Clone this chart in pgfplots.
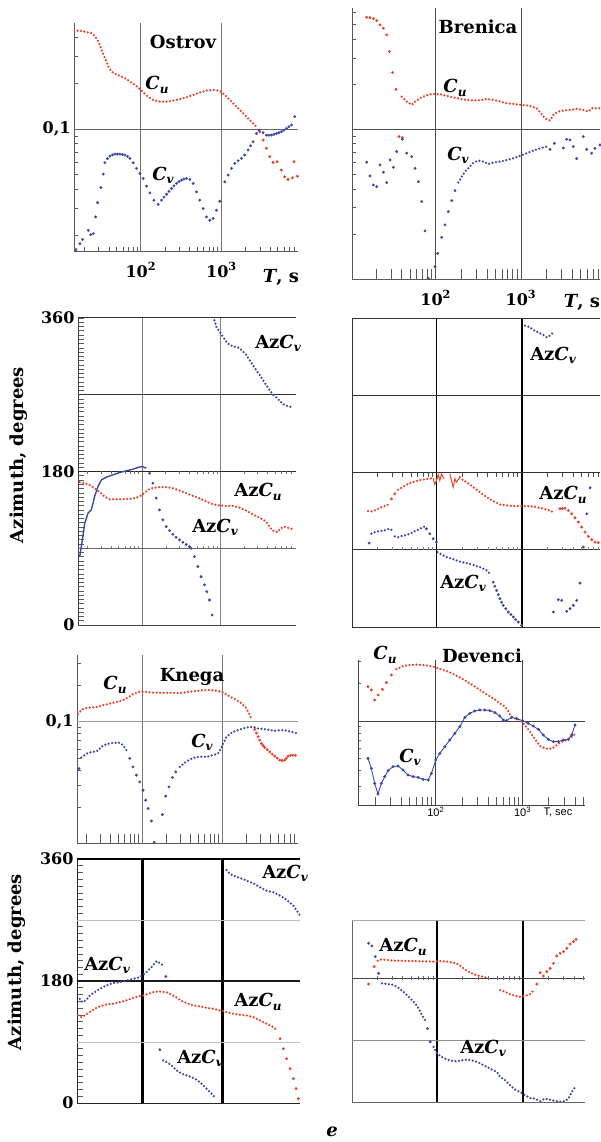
\documentclass[border=0pt]{standalone}
\usepackage{fontspec}
\setmainfont{DejaVu Serif}
\setsansfont{Liberation Sans}
\usepackage{pgfplots}
\pgfplotsset{compat=1.18}
\definecolor{rd}{HTML}{E8432A}
\definecolor{bl}{HTML}{3D4AA3}
\newcommand\tl{\fontsize{16}{16}\selectfont\bfseries}
\newcommand\lb{\fontsize{18}{18}\selectfont\bfseries}
\newcommand\sub[1]{\raisebox{-0.35ex}{\fontsize{12}{12}\selectfont\bfseries\itshape #1}}
\newcommand\Cx[1]{{\lb\itshape C\sub{#1}}}
\newcommand\Az[1]{{\lb Az{\itshape C}\sub{#1}}}
\newcommand\vl[2][]{\draw[#1] ({axis cs:#2,0}|-{rel axis cs:0,0}) -- ({axis cs:#2,0}|-{rel axis cs:0,1});}
\newcommand\hl[2][]{\draw[#1] ({rel axis cs:0,0}|-{axis cs:0,#2}) -- ({rel axis cs:1,0}|-{axis cs:0,#2});}
\pgfplotsset{
  base/.style={scale only axis, clip mode=individual, anchor=south west,
    axis x line*=bottom, axis y line*=left,
    axis line style={-, black!65, line width=0.8pt},
    tick style={black!65, line width=0.6pt},
    major tick length=0pt, minor tick length=4pt,
    xtick align=inside, ytick align=inside,
    ticklabel style={font=\tl},
    xticklabel style={yshift=-8pt}},
  cpan/.style={base, xtick={2,3}, xticklabels={10\textsuperscript{2},10\textsuperscript{3}},
    extra x ticks={1.301,1.477,1.602,1.699,1.778,1.845,1.903,1.954,2.301,2.477,2.602,2.699,2.778,2.845,2.903,2.954,3.301,3.477,3.602,3.699,3.778,3.845,3.903},
    ytick={-1}, yticklabel={0,1},
    minor ytick={-1.699,-1.523,-1.398,-1.301,-1.222,-1.155,-1.097,-1.046,-0.699,-0.523,-0.398,-0.301,-0.222}},
  apan/.style={base, xtick=\empty, ymin=0, ymax=360, ytick={0,180,360}, yticklabels={0,180,360},
    minor ytick={0,5,...,360}, minor tick length=6pt},
  dt/.style={line width=2.5pt, line cap=round, dash pattern=on 0pt off 3.5pt},
  sp/.style={only marks, mark=*, mark size=1.25pt, mark options={draw=none}},
}
\begin{document}
\begin{tikzpicture}[x=1pt,y=1pt]
\path[use as bounding box] (0,0) rectangle (600,1142);

% ---------------- Ostrov C
\begin{axis}[cpan, at={(74pt,891pt)}, width=224pt, height=228pt,
  xmin=1.17, xmax=3.95, ymin=-1.802, ymax=-0.303,
  extra x tick style={grid=none, xticklabel={}, major tick length=4pt}]
\vl[black!55,line width=0.8pt]{2}\vl[black!55,line width=0.8pt]{3}\hl[black!60,line width=0.9pt]{-1}
\addplot[rd, dt] coordinates {(1.169,-0.352)(1.244,-0.354)(1.326,-0.363)(1.388,-0.369)(1.430,-0.391)(1.471,-0.424)(1.512,-0.479)(1.554,-0.534)(1.595,-0.589)(1.636,-0.622)(1.678,-0.637)(1.740,-0.651)(1.802,-0.666)(1.864,-0.688)(1.926,-0.710)(2.000,-0.743)(2.070,-0.780)(2.153,-0.809)(2.236,-0.820)(2.318,-0.820)(2.401,-0.813)(2.483,-0.804)(2.566,-0.791)(2.649,-0.776)(2.731,-0.760)(2.814,-0.747)(2.897,-0.743)(2.979,-0.749)(3.041,-0.776)(3.103,-0.809)(3.186,-0.853)(3.269,-0.897)(3.351,-0.941)(3.434,-0.985)};
\addplot[rd, sp] coordinates {(3.475,-1.018)(3.517,-1.073)(3.558,-1.127)(3.599,-1.182)(3.640,-1.220)(3.690,-1.215)(3.744,-1.270)(3.785,-1.314)(3.826,-1.332)(3.880,-1.321)(3.901,-1.215)(3.942,-1.310)};
\addplot[bl, sp] coordinates {(1.194,-1.793)(1.244,-1.754)(1.277,-1.727)(1.347,-1.666)(1.376,-1.695)(1.409,-1.688)(1.438,-1.578)(1.463,-1.484)(1.504,-1.385)(1.533,-1.297)(1.554,-1.222)(1.585,-1.195)(1.616,-1.178)(1.647,-1.170)(1.678,-1.165)(1.709,-1.165)(1.740,-1.165)(1.771,-1.167)(1.802,-1.171)(1.833,-1.180)(1.864,-1.193)(1.905,-1.222)(1.946,-1.259)(1.988,-1.292)(2.029,-1.325)(2.070,-1.376)(2.112,-1.420)(2.161,-1.468)(2.215,-1.495)(2.256,-1.468)(2.287,-1.448)(2.318,-1.429)(2.349,-1.410)(2.380,-1.391)(2.411,-1.374)(2.442,-1.358)(2.473,-1.346)(2.504,-1.336)(2.535,-1.329)(2.566,-1.325)(2.607,-1.332)(2.649,-1.358)(2.690,-1.413)(2.731,-1.468)(2.773,-1.523)(2.814,-1.578)(2.855,-1.600)(2.897,-1.589)(2.938,-1.534)(2.979,-1.475)(3.041,-1.347)(3.083,-1.303)(3.124,-1.259)(3.165,-1.226)(3.207,-1.209)(3.248,-1.193)(3.289,-1.171)(3.331,-1.138)(3.362,-1.110)(3.393,-1.084)(3.434,-1.029)(3.467,-1.007)(3.517,-1.024)(3.558,-1.040)(3.589,-1.041)(3.620,-1.040)(3.651,-1.035)(3.682,-1.029)(3.713,-1.024)(3.744,-1.018)(3.775,-1.008)(3.806,-0.996)(3.837,-0.985)(3.868,-0.974)(3.909,-0.919)};
\end{axis}

% ---------------- Brenica C
\begin{axis}[cpan, at={(352pt,863pt)}, width=248pt, height=271pt,
  xmin=1.019, xmax=3.926, ymin=-2.0, ymax=-0.19, yticklabels={},
  extra x tick style={grid=none, xticklabel={}, major tick length=10pt}]
\vl[black!70,line width=0.9pt]{2}\vl[black!70,line width=0.9pt]{3}\hl[black!70,line width=1pt]{-1}
\addplot[rd, sp] coordinates {(1.191,-0.252)(1.230,-0.254)(1.270,-0.261)(1.309,-0.274)(1.348,-0.303)(1.387,-0.325)(1.426,-0.370)(1.457,-0.481)(1.496,-0.621)(1.535,-0.733)(1.570,-1.049)(1.609,-1.056)};
\addplot[rd, dt] coordinates {(1.602,-0.782)(1.660,-0.815)(1.719,-0.837)(1.758,-0.815)(1.816,-0.793)(1.875,-0.777)(1.934,-0.766)(2.000,-0.764)(2.051,-0.766)(2.129,-0.777)(2.207,-0.788)(2.285,-0.797)(2.363,-0.804)(2.441,-0.808)(2.520,-0.806)(2.598,-0.797)(2.676,-0.804)(2.754,-0.815)(2.832,-0.826)(2.910,-0.831)(3.000,-0.837)(3.105,-0.844)(3.184,-0.860)(3.230,-0.893)(3.281,-0.927)(3.340,-0.942)(3.379,-0.904)(3.438,-0.882)(3.496,-0.875)(3.574,-0.871)(3.652,-0.864)(3.730,-0.871)(3.789,-0.882)(3.828,-0.860)(3.926,-0.860)};
\addplot[bl, sp] coordinates {(1.191,-1.220)(1.230,-1.312)(1.270,-1.372)(1.309,-1.383)(1.348,-1.238)(1.387,-1.287)(1.426,-1.356)(1.465,-1.205)(1.504,-1.254)(1.543,-1.149)(1.609,-1.067)(1.660,-1.160)(1.719,-1.183)(1.758,-1.261)(1.797,-1.350)(1.836,-1.483)(1.875,-1.679)(1.914,-1.996)(1.992,-1.918)(2.023,-1.829)(2.070,-1.722)(2.109,-1.639)(2.148,-1.550)(2.188,-1.477)(2.227,-1.410)};
\addplot[bl, dt] coordinates {(2.266,-1.356)(2.305,-1.316)(2.344,-1.283)(2.402,-1.249)(2.441,-1.223)(2.500,-1.209)(2.559,-1.216)(2.617,-1.232)(2.676,-1.223)(2.754,-1.216)(2.832,-1.205)(2.910,-1.194)(2.988,-1.178)(3.066,-1.160)(3.145,-1.143)(3.223,-1.127)(3.301,-1.116)};
\addplot[bl, sp] coordinates {(3.340,-1.134)(3.391,-1.094)(3.496,-1.125)(3.535,-1.067)(3.574,-1.071)(3.613,-1.116)(3.652,-1.196)(3.730,-1.049)(3.770,-1.134)(3.828,-1.160)(3.867,-1.127)(3.926,-1.105)};
\end{axis}

% ---------------- Ostrov Az
\begin{axis}[apan, at={(78pt,517pt)}, width=218pt, height=307pt,
  xmin=1.178, xmax=3.967, axis line style={-, black!75, line width=0.9pt}]
\vl[black!50,line width=0.8pt]{2}\vl[black!50,line width=0.8pt]{3}
\hl[black!80,line width=1pt]{360}\hl[black!80,line width=1pt]{270}\hl[black!85,line width=1.1pt]{180}\hl[black!60,line width=0.6pt]{90}
\pgfplotsinvokeforeach{1.301,1.477,1.602,1.699,1.778,1.845,1.903,1.954,2.301,2.477,2.602,2.699,2.778,2.845,2.903,2.954,3.301,3.477,3.602,3.699,3.778,3.845,3.903}{\draw[black!60,line width=0.6pt] (axis cs:#1,180) -- ++(0pt,-2.5pt); \draw[black!50,line width=0.5pt] (axis cs:#1,90) -- ++(0pt,2pt);}
\addplot[rd, dt] coordinates {(1.200,167.5)(1.264,166.3)(1.328,164.0)(1.391,160.4)(1.455,155.7)(1.519,150.6)(1.583,147.5)(1.668,147.5)(1.753,147.5)(1.838,147.9)(1.923,149.1)(2.000,152.6)(2.072,158.5)(2.136,160.8)(2.221,161.6)(2.306,161.6)(2.391,160.4)(2.477,157.7)(2.562,154.6)(2.647,151.4)(2.732,148.7)(2.817,144.8)(2.902,141.7)(2.987,140.1)(3.072,139.7)(3.157,139.7)(3.243,137.7)(3.328,134.2)(3.413,129.9)(3.498,126.0)(3.583,121.3)(3.626,115.4)(3.668,110.7)(3.732,108.8)(3.774,113.5)(3.817,115.4)(3.881,113.5)(3.923,112.3)};
\addplot[bl, line width=1.4pt] coordinates {(1.200,80.2)(1.234,99.8)(1.264,119.3)(1.306,131.1)(1.349,135.0)(1.391,150.7)(1.434,162.4)(1.477,170.2)(1.540,173.3)(1.626,176.1)(1.711,178.8)(1.796,180.8)(1.881,182.7)(1.945,184.7)(2.000,185.9)(2.051,183.9)};
\addplot[bl, sp] coordinates {(2.094,178.0)(2.136,166.3)(2.179,148.7)(2.221,135.0)(2.264,123.3)(2.306,115.4)(2.349,110.7)(2.391,106.4)(2.434,102.9)(2.477,99.8)(2.519,97.0)(2.562,94.3)(2.604,92.0)(2.626,90.0)(2.668,80.2)(2.711,68.5)(2.753,56.7)(2.796,47.0)(2.826,39.1)(2.860,29.3)(2.894,11.7)};
\addplot[bl, dt] coordinates {(2.923,357.3)(2.953,348.3)(2.987,344.3)(3.030,338.5)(3.072,332.6)(3.115,328.7)(3.157,326.7)(3.200,326.0)(3.243,324.8)(3.285,320.9)(3.328,317.0)(3.370,311.1)(3.413,305.2)(3.455,299.3)(3.498,293.5)(3.540,287.6)(3.583,281.7)(3.626,275.9)(3.668,270.8)(3.711,267.3)(3.753,263.3)(3.796,259.4)(3.838,257.1)(3.881,256.3)(3.915,255.1)};
\end{axis}

% ---------------- Brenica Az
\begin{axis}[apan, at={(352pt,515pt)}, width=248pt, height=308pt,
  xmin=1.007, xmax=3.921, ytick=\empty, axis line style={-, black!80, line width=0.9pt}]
\vl[black,line width=1.8pt]{2}\vl[black,line width=1.8pt]{3}
\hl[black!80,line width=1pt]{360}\hl[black!80,line width=1pt]{270}\hl[black!80,line width=1pt]{180}\hl[black!80,line width=1pt]{90}
\pgfplotsinvokeforeach{1.301,1.477,1.602,1.699,1.778,1.845,1.903,1.954,2.301,2.477,2.602,2.699,2.778,2.845,2.903,2.954,3.301,3.477,3.602,3.699,3.778,3.845,3.903}{\draw[black!70,line width=0.6pt] (axis cs:#1,180) -- ++(0pt,-4pt); \draw[black!50,line width=0.5pt] (axis cs:#1,90) -- ++(0pt,3pt);}
\addplot[bl, dt] coordinates {(3.039,352.2)(3.098,350.3)(3.137,347.2)(3.196,344.4)(3.255,341.3)(3.294,338.6)(3.333,340.6)(3.361,343.3)};
\addplot[rd, dt] coordinates {(1.196,135.4)(1.235,135.1)(1.275,136.2)(1.314,138.2)(1.353,140.1)(1.392,141.3)(1.431,142.8)};
\addplot[rd, sp] coordinates {(1.471,149.8)(1.510,155.7)};
\addplot[rd, dt] coordinates {(1.549,160.4)(1.588,162.7)(1.627,165.0)(1.667,167.4)(1.725,169.3)(1.784,171.2)(1.843,172.4)(1.902,173.2)(1.961,174.0)};
\addplot[rd, line width=1pt] coordinates {(1.961,174.0)(1.980,166.6)(2.000,171.2)(2.020,178.3)(2.039,171.2)(2.059,179.0)(2.086,173.2)};
\addplot[rd, line width=1pt] coordinates {(2.157,179.0)(2.176,171.2)(2.196,163.5)(2.216,173.2)(2.235,169.3)(2.275,175.1)};
\addplot[rd, dt] coordinates {(2.275,175.1)(2.314,171.2)(2.353,169.3)(2.392,166.6)(2.431,163.5)(2.471,160.4)(2.510,157.6)(2.549,154.9)(2.588,151.8)(2.627,149.5)(2.667,147.1)(2.706,145.2)(2.745,143.2)(2.824,142.1)(2.902,141.3)(3.000,141.3)(3.098,141.3)(3.176,140.1)(3.255,138.2)(3.333,136.2)(3.392,133.1)};
\addplot[rd, sp] coordinates {(3.451,138.2)(3.480,138.5)(3.510,138.9)(3.549,136.2)(3.588,132.3)(3.627,127.7)(3.667,122.6)(3.706,116.8)(3.745,110.9)(3.784,105.9)(3.824,102.0)(3.863,99.2)(3.900,98.6)(3.922,98.5)};
\addplot[bl, sp] coordinates {(1.208,98.1)(1.882,114.8)(1.922,109.0)(1.961,103.1)(2.000,99.2)};
\addplot[bl, dt] coordinates {(1.235,109.0)(1.275,110.9)(1.333,112.1)(1.392,112.9)(1.443,114.8)(1.471,113.6)};
\addplot[bl, dt] coordinates {(1.510,105.9)(1.549,105.1)(1.588,106.3)(1.627,107.0)(1.667,108.2)(1.706,109.8)(1.745,112.1)(1.784,113.6)(1.824,116.0)(1.863,117.5)};
\addplot[bl, dt] coordinates {(2.012,87.6)(2.059,84.8)(2.118,81.7)(2.176,79.8)(2.235,77.8)(2.294,75.9)(2.353,74.7)(2.412,73.2)(2.471,71.2)(2.529,69.3)(2.588,66.2)(2.627,62.3)};
\addplot[bl, sp] coordinates {(2.667,52.5)(2.686,47.6)(2.706,42.8)(2.725,37.9)(2.745,33.1)(2.765,29.0)(2.784,25.3)(2.814,21.4)(2.843,17.5)(2.873,14.6)(2.902,11.7)(2.931,8.7)(2.961,5.8)(3.000,1.9)};
\addplot[bl, sp] coordinates {(3.373,17.5)(3.431,31.9)(3.471,31.1)(3.529,18.3)(3.569,21.4)(3.608,25.3)(3.647,31.1)(3.686,51.4)(3.725,93.4)(3.765,132.3)(3.804,162.7)};
\end{axis}

% ---------------- Knega C
\begin{axis}[cpan, at={(77pt,299pt)}, width=221pt, height=188pt,
  xmin=1.183, xmax=3.945, ymin=-1.995, ymax=-0.452,
  extra x tick style={grid=none, xticklabel={}, major tick length=9pt}, xticklabels={}]
\vl[black!55,line width=0.8pt]{2}\vl[black!55,line width=0.8pt]{3}\hl[black!40,line width=0.8pt]{-1}
\addplot[rd, dt] coordinates {(1.196,-0.937)(1.238,-0.904)(1.279,-0.890)(1.321,-0.885)(1.383,-0.882)(1.446,-0.877)(1.508,-0.863)(1.571,-0.855)(1.633,-0.844)(1.696,-0.836)(1.758,-0.822)(1.821,-0.800)(1.883,-0.773)(1.946,-0.756)(2.000,-0.753)(2.092,-0.759)(2.175,-0.762)(2.258,-0.762)(2.342,-0.762)(2.425,-0.764)(2.508,-0.762)(2.592,-0.753)(2.675,-0.748)(2.758,-0.740)(2.842,-0.740)(2.925,-0.745)(2.988,-0.753)(3.050,-0.775)(3.113,-0.800)(3.175,-0.822)(3.238,-0.849)(3.300,-0.890)(3.342,-0.945)(3.371,-0.986)};
\addplot[rd, sp] coordinates {(3.404,-1.063)(3.425,-1.093)(3.446,-1.123)(3.467,-1.150)(3.488,-1.178)(3.508,-1.195)(3.529,-1.211)(3.560,-1.229)(3.592,-1.247)(3.623,-1.265)(3.654,-1.282)(3.685,-1.298)(3.717,-1.315)(3.748,-1.318)(3.779,-1.315)(3.800,-1.300)(3.821,-1.282)(3.852,-1.276)(3.883,-1.274)(3.914,-1.276)(3.946,-1.279)};
\addplot[bl, sp] coordinates {(1.208,-1.384)(1.842,-1.301)(1.883,-1.370)(1.925,-1.438)(1.967,-1.493)(2.008,-1.562)(2.042,-1.644)(2.071,-1.712)(2.113,-1.814)(2.146,-1.989)(2.250,-1.762)(2.292,-1.611)(2.333,-1.534)(2.375,-1.458)(2.417,-1.411)};
\addplot[bl, dt] coordinates {(1.238,-1.293)(1.279,-1.274)(1.321,-1.255)(1.383,-1.247)(1.446,-1.238)(1.488,-1.205)(1.550,-1.184)(1.633,-1.173)(1.717,-1.173)(1.758,-1.192)(1.800,-1.233)};
\addplot[bl, dt] coordinates {(2.467,-1.370)(2.529,-1.337)(2.592,-1.310)(2.654,-1.293)(2.717,-1.288)(2.800,-1.288)(2.883,-1.274)(2.946,-1.260)(2.988,-1.211)(3.050,-1.123)(3.133,-1.082)(3.217,-1.063)(3.300,-1.047)(3.383,-1.041)(3.446,-1.055)(3.550,-1.063)(3.654,-1.074)(3.758,-1.068)(3.863,-1.082)(3.946,-1.096)};
\end{axis}

% ---------------- Devenci C
\begin{axis}[cpan, at={(358pt,337pt)}, width=227pt, height=145pt,
  xmin=1.104, xmax=3.719, ymin=-1.672, ymax=-0.512, yticklabels={}, minor tick length=3pt,
  axis line style={-, black!75, line width=0.8pt},
  xticklabel style={font=\fontsize{11}{11}\selectfont\sffamily\mdseries, yshift=9pt},
  extra x tick style={grid=none, xticklabel={}, major tick length=8pt}]
\vl[black!75,line width=0.8pt]{2}\vl[black!75,line width=0.8pt]{3}\hl[black!75,line width=0.8pt]{-1}
\addplot[rd, sp] coordinates {(1.219,-0.725)(1.258,-0.752)(1.296,-0.832)(1.335,-0.792)(1.385,-0.747)(1.431,-0.693)(1.488,-0.632)};
\addplot[rd, dt] coordinates {(1.546,-0.587)(1.623,-0.560)(1.700,-0.552)(1.777,-0.549)(1.854,-0.552)(1.931,-0.560)(2.000,-0.571)(2.065,-0.587)(2.142,-0.605)(2.219,-0.629)(2.296,-0.659)(2.373,-0.691)(2.450,-0.725)(2.527,-0.760)(2.604,-0.795)(2.681,-0.827)(2.738,-0.859)(2.796,-0.885)(2.835,-0.920)(2.862,-0.960)(2.912,-0.979)(2.969,-0.992)(3.008,-1.019)(3.046,-1.051)(3.085,-1.085)(3.123,-1.125)(3.162,-1.165)(3.200,-1.200)(3.258,-1.219)(3.315,-1.224)(3.373,-1.205)(3.431,-1.173)(3.488,-1.157)(3.546,-1.139)(3.604,-1.104)};
\addplot[bl, line width=0.9pt, mark=*, mark size=1pt] coordinates {(1.219,-1.299)(1.258,-1.379)(1.296,-1.499)(1.335,-1.584)(1.373,-1.499)(1.412,-1.445)(1.450,-1.397)(1.508,-1.365)(1.565,-1.360)(1.623,-1.392)(1.681,-1.432)(1.738,-1.445)(1.796,-1.451)(1.854,-1.467)(1.912,-1.472)(1.950,-1.419)(2.000,-1.312)(2.046,-1.259)(2.104,-1.205)(2.162,-1.152)(2.219,-1.099)(2.277,-1.045)(2.335,-0.971)(2.392,-0.939)(2.450,-0.920)(2.508,-0.912)(2.565,-0.912)(2.623,-0.917)(2.681,-0.933)(2.738,-0.960)(2.777,-0.992)(2.815,-0.997)(2.873,-0.971)(2.931,-0.981)(3.000,-0.997)(3.065,-1.019)(3.123,-1.040)(3.181,-1.067)(3.238,-1.112)(3.296,-1.147)(3.354,-1.165)(3.412,-1.165)(3.469,-1.152)(3.527,-1.147)(3.565,-1.112)(3.604,-1.032)};
\end{axis}

% ---------------- Knega Az
\begin{axis}[apan, at={(77pt,39pt)}, width=223pt, height=244pt,
  xmin=1.183, xmax=3.966, minor ytick={0,10,...,360}, axis line style={-, black!85, line width=1pt}]
\vl[black,line width=2.2pt]{2}\vl[black,line width=2.2pt]{3}
\hl[black,line width=1.3pt]{360}\hl[black!25,line width=0.8pt]{270}\hl[black!90,line width=1.3pt]{180}\hl[black!25,line width=0.8pt]{90}
\addplot[bl, dt] coordinates {(3.050,343.8)(3.092,337.9)(3.133,335.4)(3.217,332.0)(3.300,328.1)(3.383,324.1)(3.467,318.2)(3.550,313.3)(3.633,310.9)(3.717,306.0)(3.800,299.6)(3.883,291.2)(3.967,276.5)};
\addplot[bl, dt] coordinates {(1.217,153.7)(1.250,148.8)(1.292,151.3)(1.342,158.6)(1.404,163.5)(1.467,168.4)(1.550,173.4)(1.633,176.8)(1.717,178.3)(1.800,180.7)(1.883,183.2)(1.967,185.6)(2.050,193.0)(2.113,200.4)(2.175,209.2)(2.217,206.3)(2.258,202.8)};
\addplot[bl, sp] coordinates {(2.292,186.6)(2.217,78.6)};
\addplot[rd, dt] coordinates {(1.196,129.2)(1.238,126.7)(1.279,129.2)(1.342,134.1)(1.404,139.0)(1.467,142.4)(1.550,145.4)(1.633,146.4)(1.717,148.8)(1.800,151.3)(1.883,155.2)(1.967,157.6)(2.050,160.1)(2.133,163.5)(2.217,164.5)(2.300,163.5)(2.383,158.6)(2.467,152.2)(2.550,147.3)(2.633,143.9)(2.717,142.4)(2.800,140.5)(2.883,139.0)(2.967,136.5)(3.050,134.1)(3.133,131.6)(3.217,130.1)(3.300,129.2)(3.383,126.7)(3.467,121.8)(3.550,116.9)(3.633,112.0)(3.675,107.1)};
\addplot[rd, sp] coordinates {(3.717,94.8)(3.758,80.0)(3.800,65.3)(3.842,50.6)(3.883,35.9)(3.917,21.1)(3.946,6.4)};
\addplot[bl, dt] coordinates {(2.258,62.9)(2.300,60.4)(2.363,55.5)(2.425,48.1)(2.488,43.2)(2.550,40.8)(2.613,38.3)(2.675,34.4)(2.738,28.5)(2.800,21.1)(2.863,13.8)(2.904,7.9)};
\end{axis}

% ---------------- Devenci Az
\begin{axis}[apan, at={(352pt,40pt)}, width=233pt, height=182pt,
  xmin=1.012, xmax=3.724, ymax=265, ytick=\empty, axis line style={-, black!60, line width=0.9pt}]
\vl[black,line width=2pt]{2}\vl[black,line width=2pt]{3}
\hl[black!35,line width=0.8pt]{265}\hl[black!75,line width=0.9pt]{180}\hl[black!45,line width=0.8pt]{90}
\pgfplotsinvokeforeach{1.301,1.477,1.602,1.699,1.778,1.845,1.903,1.954,2.301,2.477,2.602,2.699,2.778,2.845,2.903,2.954,3.301,3.477,3.602,3.699}{\draw[black!60,line width=0.6pt] (axis cs:#1,180) ++(0pt,-2pt) -- ++(0pt,4pt);}
\addplot[rd, sp] coordinates {(1.205,171.7)(1.271,197.0)};
\addplot[rd, dt] coordinates {(1.310,205.8)(1.360,207.7)(1.419,206.8)(1.496,205.8)(1.574,205.8)(1.651,205.3)(1.729,205.3)(1.806,204.8)(1.884,204.8)(1.961,204.3)(2.039,205.3)(2.116,204.3)(2.194,202.9)(2.252,200.4)(2.310,194.6)(2.368,189.7)(2.426,186.3)(2.484,183.9)(2.543,182.4)(2.601,180.0)};
\addplot[rd, dt] coordinates {(2.736,163.0)(2.795,160.5)(2.853,156.7)(2.911,154.7)(2.969,153.2)(3.027,154.2)(3.085,157.1)(3.124,163.0)};
\addplot[rd, sp] coordinates {(3.163,171.7)(3.202,188.3)(3.240,183.4)(3.279,189.7)(3.318,194.6)(3.357,201.9)(3.395,212.6)(3.434,216.5)(3.473,218.9)(3.512,223.8)(3.550,230.1)(3.589,233.5)(3.620,236.9)};
\addplot[bl, sp] coordinates {(1.205,231.1)(1.244,227.2)(1.283,211.6)(1.322,187.3)(1.891,107.0)(1.922,87.6)};
\addplot[bl, dt] coordinates {(1.360,172.7)(1.419,171.7)(1.477,171.2)(1.535,167.8)(1.574,164.0)(1.632,158.1)(1.690,150.8)(1.748,143.5)(1.787,136.2)(1.826,126.5)(1.864,119.2)};
\addplot[bl, dt] coordinates {(1.961,80.3)(2.000,70.5)(2.058,65.7)(2.116,61.8)(2.174,59.8)(2.233,59.4)(2.291,60.8)(2.349,61.8)(2.407,60.8)(2.465,58.4)(2.523,55.0)(2.581,51.1)(2.640,47.2)(2.698,43.8)(2.736,36.5)(2.795,31.6)(2.853,24.3)(2.911,18.0)(2.969,14.6)(3.027,9.7)(3.085,5.8)(3.143,4.9)(3.202,1.0)(3.260,4.9)(3.318,3.4)(3.376,1.5)(3.434,0.5)(3.492,1.0)(3.531,4.9)(3.570,14.6)(3.609,21.9)};
\end{axis}

% ---------------- text
\node at (183,1100) {\lb Ostrov};
\node at (157,1057) {\Cx{u}};
\node at (163,967) {\Cx{v}};
\node at (281,865) {\lb{\itshape T}, s};
\node at (478,1115) {\lb Brenica};
\node at (455,1054) {\Cx{u}};
\node at (458,987) {\Cx{v}};
\node at (582,840) {\lb{\itshape T}, s};
\node at (278,799) {\Az{v}};
\node at (258,650) {\Az{u}};
\node at (215,615) {\Az{v}};
\node at (553,787) {\Az{v}};
\node at (563,647) {\Az{u}};
\node at (463,559) {\Az{v}};
\node[rotate=90] at (19,687) {\lb Azimuth, degrees};
\node at (192,465) {\lb Knega};
\node at (115,457) {\Cx{u}};
\node at (202,400) {\Cx{v}};
\node at (385,487) {\Cx{u}};
\node at (482,486) {\lb Devenci};
\node at (410,385) {\Cx{v}};
\node at (558,330) {\fontsize{11}{11}\selectfont\sffamily T, sec};
\node at (107,177) {\Az{v}};
\node at (258,140) {\Az{u}};
\node at (285,269) {\Az{v}};
\node at (200,84) {\Az{v}};
\node[rotate=90] at (17,180) {\lb Azimuth, degrees};
\node at (403,195) {\Az{u}};
\node at (483,94) {\Az{v}};
\node at (332,10) {\lb\itshape e};
\end{tikzpicture}
\end{document}
